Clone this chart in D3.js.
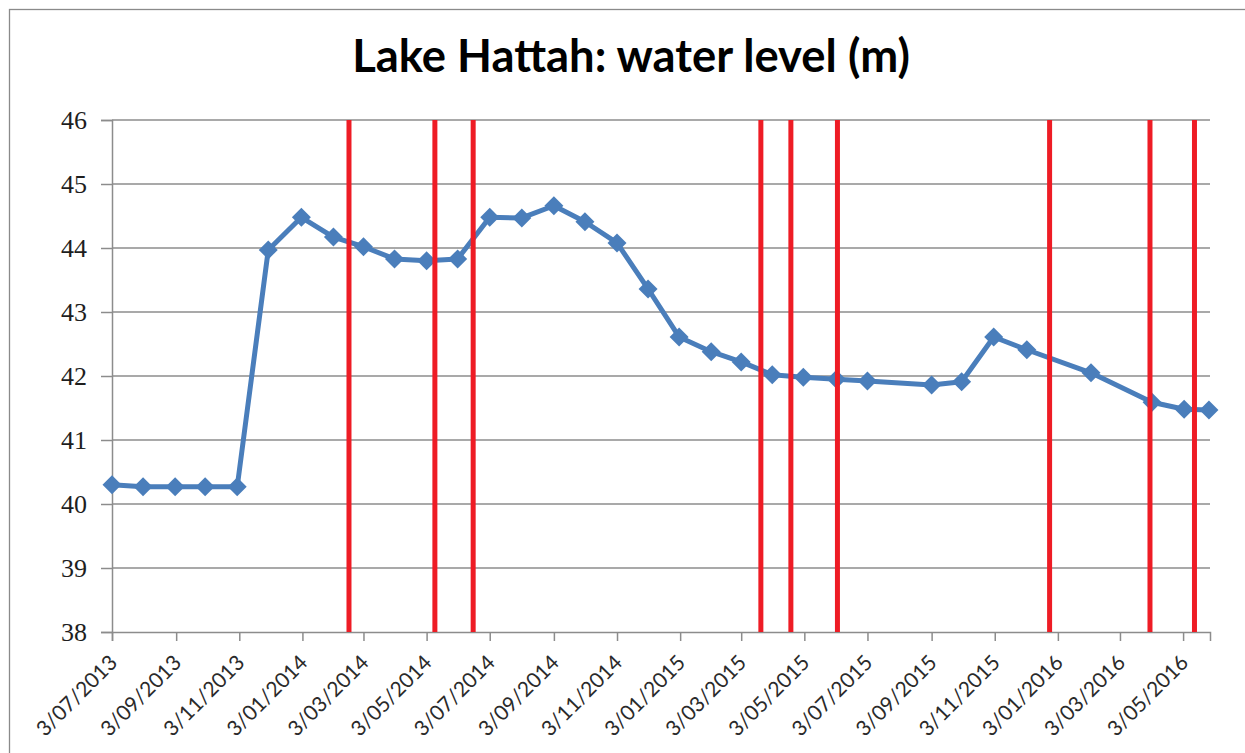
<!DOCTYPE html>
<html><head><meta charset="utf-8">
<script src="https://cdn.jsdelivr.net/npm/d3@7"></script>
<style>html,body{margin:0;padding:0;background:#fff;}svg{display:block;}</style>
</head><body>
<script>
// ---- data ----
const title = "Lake Hattah: water level (m)";
const dates = ["2013-07-03","2013-08-02","2013-09-02","2013-10-01","2013-11-01","2013-12-01",
  "2014-01-02","2014-02-02","2014-03-03","2014-04-02","2014-05-03","2014-06-02",
  "2014-07-03","2014-08-03","2014-09-03","2014-10-03","2014-11-03","2014-12-03",
  "2015-01-02","2015-02-02","2015-03-03","2015-04-02","2015-05-02","2015-06-03",
  "2015-07-03","2015-09-03","2015-10-02","2015-11-02","2015-12-04","2016-02-04",
  "2016-04-03","2016-05-04","2016-05-28"];
const levels = [40.30,40.27,40.27,40.27,40.27,43.97,
  44.48,44.17,44.02,43.83,43.80,43.83,
  44.48,44.47,44.66,44.41,44.08,43.36,
  42.61,42.38,42.22,42.02,41.98,41.95,
  41.92,41.86,41.91,42.61,42.41,42.05,
  41.59,41.48,41.47];
const eventDates = ["2014-02-17","2014-05-11","2014-06-17","2015-03-22","2015-04-20",
  "2015-06-04","2015-12-26","2016-04-01","2016-05-14"];
const tickDates = ["2013-07-03","2013-09-03","2013-11-03","2014-01-03","2014-03-03",
  "2014-05-03","2014-07-03","2014-09-03","2014-11-03","2015-01-03","2015-03-03",
  "2015-05-03","2015-07-03","2015-09-03","2015-11-03","2016-01-03","2016-03-03","2016-05-03"];
const yTicks = [38,39,40,41,42,43,44,45,46];
const xDomain = ["2013-07-03","2016-05-29"];

// ---- drawing ----
const W = 1245, H = 753;
const parse = d3.utcParse("%Y-%m-%d");
const fmt = d3.utcFormat("%-d/%m/%Y");
const svg = d3.select("body").append("svg").attr("width", W).attr("height", H);

svg.append("rect").attr("x", 9.5).attr("y", 9.5).attr("width", 1300).attr("height", 800)
  .attr("fill", "#fff").attr("stroke", "#8a8a8a").attr("stroke-width", 1.3);

const x = d3.scaleUtc().domain(xDomain.map(parse)).range([112, 1210]);
const y = d3.scaleLinear().domain([38, 46]).range([632, 120]);

const gridColor = "#8c8c8c";

// horizontal gridlines
svg.append("g").selectAll("line").data(yTicks.filter(d => d > 38)).join("line")
  .attr("x1", 112).attr("x2", 1210)
  .attr("y1", d => y(d)).attr("y2", d => y(d))
  .attr("stroke", gridColor).attr("stroke-width", 1.5);

// y axis
const yAxis = svg.append("g").attr("transform", "translate(112,0)")
  .call(d3.axisLeft(y).tickValues(yTicks).tickSize(11).tickPadding(14).tickFormat(d3.format("d")));
yAxis.select(".domain").attr("stroke", gridColor).attr("stroke-width", 1.5);
yAxis.selectAll(".tick line").attr("stroke", gridColor).attr("stroke-width", 1.5);
yAxis.selectAll("text").attr("font-family", "'Liberation Serif', serif").attr("font-size", 26)
  .attr("fill", "#1e1e1e").attr("dy", "0.34em");

// x axis
const xAxis = svg.append("g").attr("transform", "translate(0,632)")
  .call(d3.axisBottom(x).tickValues(tickDates.map(parse)).tickSize(9).tickFormat(fmt));
xAxis.select(".domain").attr("stroke", gridColor).attr("stroke-width", 1.5);
xAxis.selectAll(".tick line").attr("stroke", gridColor).attr("stroke-width", 1.5);
const xt = xAxis.selectAll("text")
  .attr("font-family", "Lato, 'Open Sans', sans-serif").attr("font-size", 22).attr("fill", "#2a2a2a")
  .attr("text-anchor", "end").attr("dy", null).attr("y", null)
  .attr("transform", "translate(6,32) rotate(-45)");
const xl = xt.node().getComputedTextLength();
xt.attr("font-size", 22 * 104 / xl);

// series
const pts = dates.map((d, i) => ({date: parse(d), v: levels[i]}));
const blue = "#4a7ebb";
svg.append("path").datum(pts)
  .attr("d", d3.line().x(d => x(d.date)).y(d => y(d.v)))
  .attr("fill", "none").attr("stroke", blue).attr("stroke-width", 5).attr("stroke-linejoin", "round");
svg.append("g").selectAll("path").data(pts).join("path")
  .attr("transform", d => `translate(${x(d.date)},${y(d.v)})`)
  .attr("d", d3.symbol(d3.symbolDiamond2, 230)())
  .attr("fill", blue);

// event lines
svg.append("g").selectAll("line").data(eventDates.map(parse)).join("line")
  .attr("x1", d => x(d)).attr("x2", d => x(d))
  .attr("y1", y(46)).attr("y2", y(38))
  .attr("stroke", "#ee1c25").attr("stroke-width", 5);

// title
const t = svg.append("text").attr("x", 631).attr("y", 72).attr("text-anchor", "middle")
  .attr("font-family", "Lato, 'Open Sans', sans-serif").attr("font-weight", "bold")
  .attr("font-size", 40).attr("fill", "#000").text(title);
const tw = t.node().getComputedTextLength();
t.attr("font-size", 40 * 558 / tw);
</script>
</body></html>
